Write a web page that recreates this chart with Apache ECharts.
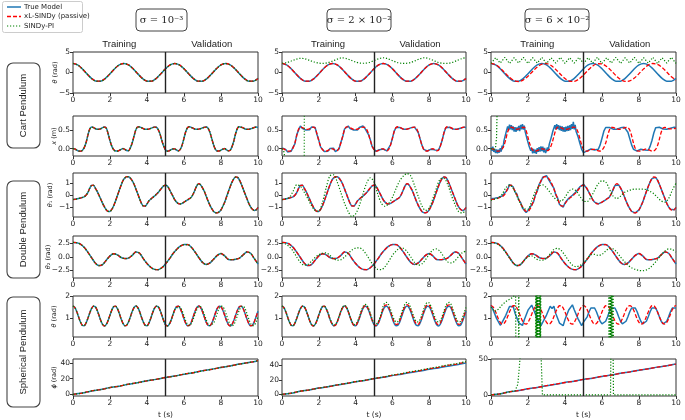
<!DOCTYPE html>
<html><head><meta charset="utf-8">
<script src="https://cdn.jsdelivr.net/npm/echarts@6/dist/echarts.min.js"></script>
<style>html,body{margin:0;padding:0;background:#fff}#c{width:685px;height:420px}</style>
</head><body><div id="c"></div>
<script>
// ---------- time grids (sampling of the horizontal axis, seconds) ----------
const t025 = Array.from({length:41},(_,i)=>i*0.25);
const t02  = Array.from({length:51},(_,i)=>+(i*0.2).toFixed(2));
const t01  = Array.from({length:101},(_,i)=>+(i*0.1).toFixed(2));
const t005 = Array.from({length:101},(_,i)=>+(i*0.05).toFixed(2));
const t05  = Array.from({length:21},(_,i)=>i*0.5);

// ---------- tick labels ----------
const xTicks = [0,2,4,6,8,10];
const colTitles = ['σ = 10⁻³','σ = 2 × 10⁻²','σ = 6 × 10⁻²'];
const rowGroups = ['Cart Pendulum','Double Pendulum','Spherical Pendulum'];
const legendNames = ['True Model','xL-SINDy (passive)','SINDy-PI'];

// ---------- Cart pendulum theta (0.25 s step) ----------
const cartThTrue = [2.2,1.85,0.91,-0.31,-1.44,-2.11,-2.11,-1.44,-0.31,0.92,1.85,
 2.2,1.85,0.91,-0.31,-1.44,-2.11,-2.11,-1.44,-0.31,0.92,1.85,
 2.2,1.85,0.91,-0.31,-1.44,-2.11,-2.11,-1.44,-0.31,0.92,1.85,
 2.2,1.85,0.91,-0.31,-1.44,-2.11,-2.11,-1.44];
const cartThPI2 = [2.25,2.4,2.8,3.2,3.45,3.35,2.95,2.55,2.3,2.22,
 2.4,2.8,3.25,3.58,3.4,3.0,2.55,2.28,2.25,2.45,
 2.9,3.35,3.6,3.35,2.9,2.45,2.25,2.25,2.45,2.9,
 3.35,3.6,3.35,2.9,2.45,2.25,2.25,2.45,2.9,3.35,3.65];
const cartThXL3 = [2.2,1.89,1.05,-0.08,-1.19,-1.97,-2.19,-1.80,-0.91,0.25,
 1.33,2.03,2.18,1.70,0.75,-0.41,-1.46,-2.09,-2.15,-1.60,
 -0.59,0.57,1.58,2.14,2.10,1.47,0.44,-0.73,-1.69,-2.17,
 -2.05,-1.35,-0.27,0.88,1.79,2.19,1.98,1.22,0.11,-1.03,-1.88];
const cartThPI3 = [2.2,3.6,2.3,3.7,2.2,3.6,2.3,3.7,2.2,3.6,2.3,3.7,2.2,3.6,2.3,3.7,2.2,3.6,2.3,3.7,
 2.2,3.6,2.3,3.7,2.2,3.6,2.3,3.7,2.2,3.6,2.3,3.7,2.2,3.6,2.3,3.7,2.2,3.6,2.3,3.7,2.2];

// ---------- Cart pendulum x (0.1 s step) ----------
const cartXTrue = [0,-0.01,-0.04,-0.065,-0.07,-0.05,0.02,0.15,0.35,0.52,
 0.58,0.57,0.54,0.52,0.52,0.535,0.565,0.58,0.55,0.40,
 0.21,0.06,-0.03,-0.065,-0.067,-0.048,-0.02,0.0,
 -0.02,-0.05,-0.055,0.02,0.15,0.34,0.51,0.585,0.585,0.565,
 0.54,0.52,0.52,0.525,0.545,0.565,0.58,0.575,0.52,0.40,
 0.22,0.07,-0.03,
 -0.07,-0.06,-0.03,-0.01,
 -0.01,-0.04,-0.06,-0.02,0.10,0.28,0.47,0.57,0.59,0.57,
 0.55,0.525,0.52,0.525,0.54,0.56,0.575,0.58,0.55,0.44,
 0.27,0.10,-0.02,-0.065,-0.065,-0.04,-0.015,
 0.0,-0.035,-0.06,-0.045,0.06,0.22,0.42,0.56,0.59,0.575,
 0.56,0.53,0.52,0.52,0.535,0.55,0.57,0.58,0.57];
// measured (noisy) training part, sigma = 2e-2, 0..5 s at 0.1 s
const cartXMeas2 = [0.02,-0.03,-0.02,-0.09,-0.05,-0.07,0.04,0.13,0.37,0.50,
 0.61,0.55,0.56,0.50,0.54,0.51,0.58,0.56,0.57,0.38,
 0.23,0.04,-0.01,-0.08,-0.05,-0.07,0.0,-0.02,
 0.01,-0.08,-0.03,-0.01,0.17,0.32,0.53,0.56,0.61,0.54,
 0.56,0.50,0.55,0.50,0.57,0.54,0.61,0.55,0.54,0.38,0.24,0.05,-0.01];
// measured (noisy) training part, sigma = 6e-2, 0..5 s at 0.05 s
const cartXMeas3 = [0.03,-0.06,0.05,-0.09,-0.01,-0.12,-0.02,-0.13,-0.03,-0.11,
 0.01,-0.08,0.08,0.02,0.21,0.19,0.41,0.38,0.60,0.49,
 0.65,0.52,0.63,0.50,0.60,0.46,0.58,0.45,0.57,0.49,
 0.61,0.47,0.64,0.52,0.66,0.51,0.62,0.45,0.44,0.26,
 0.25,0.08,0.10,-0.06,0.02,-0.13,-0.01,-0.12,-0.03,-0.14,
 0.01,-0.09,0.04,-0.08,0.06,-0.07,0.05,-0.10,0.02,-0.12,
 -0.10,0.03,-0.04,0.12,0.10,0.29,0.30,0.48,0.46,0.63,
 0.52,0.66,0.53,0.63,0.50,0.61,0.48,0.60,0.46,0.58,
 0.45,0.59,0.47,0.61,0.48,0.63,0.50,0.66,0.53,0.72,
 0.52,0.64,0.46,0.50,0.33,0.34,0.15,0.13,-0.02,0.01,-0.11];
const cartXXL3 = [0,-0.01,-0.04,-0.065,-0.07,-0.06,
 -0.01,0.08,0.25,0.45,0.56,0.58,0.56,0.53,0.52,0.53,
 0.55,0.57,0.57,0.48,0.3,0.12,0.0,-0.06,-0.07,-0.055,
 -0.03,-0.01,-0.01,-0.03,-0.055,-0.05,0.02,0.15,0.33,0.5,
 0.58,0.58,0.56,0.535,0.52,0.52,0.53,0.55,0.57,0.58,
 0.55,0.45,0.28,0.1,-0.02,
 -0.07,-0.07,-0.05,-0.03,-0.02,-0.02,-0.04,-0.06,-0.065,-0.04,
 0.03,0.15,0.34,0.5,0.57,0.57,0.55,0.53,0.52,0.525,
 0.54,0.56,0.57,0.565,0.5,0.35,0.15,0.0,-0.06,-0.07,
 -0.06,-0.04,-0.02,-0.01,-0.03,-0.05,-0.065,-0.06,-0.02,0.08,
 0.25,0.44,0.55,0.57,0.56,0.54,0.53,0.53,0.54,0.55];
const cartXPI2T = [0,0.08,0.12,0.16,0.2,1.2,1.22,10];
const cartXPI2V = [0,-0.02,-0.1,-0.4,-3,-3,3,3];
const cartXPI3T = [0,0.15,0.25,0.3,0.33,0.36,10];
const cartXPI3V = [0,-0.03,0.05,0.3,1.0,3,3];

// ---------- Double pendulum theta1 (0.1 s step) ----------
const dpTh1True = [-0.38,-0.36,-0.33,-0.3,-0.26,-0.21,-0.15,-0.02,0.2,0.55,
 0.8,0.82,0.6,0.32,0.0,-0.35,-0.7,-1.0,-1.25,-1.38,
 -1.38,-1.2,-0.9,-0.5,-0.05,0.4,0.82,1.2,1.42,1.54,
 1.53,1.42,1.2,0.9,0.5,0.1,-0.32,-0.7,-0.92,-0.93,
 -0.75,-0.5,-0.35,-0.22,-0.1,0.05,0.2,0.4,0.6,0.77,
 0.82,0.75,0.5,0.2,-0.1,-0.4,-0.6,-0.72,-0.75,-0.7,
 -0.6,-0.5,-0.4,-0.3,-0.18,0.1,0.45,0.8,0.95,0.85,
 0.6,0.3,-0.1,-0.5,-0.85,-1.15,-1.38,-1.48,-1.5,-1.42,
 -1.25,-0.95,-0.6,-0.15,0.3,0.72,1.1,1.38,1.52,1.48,
 1.25,0.9,0.5,0.1,-0.3,-0.7,-1.0,-1.2,-1.3,-1.25,-1.05];
const dpTh1Meas3 = [-0.31,-0.45,-0.27,-0.39,-0.2,-0.28,-0.08,-0.1,0.27,0.47,
 0.88,0.74,0.68,0.25,0.08,-0.43,-0.62,-1.09,-1.17,-1.47,
 -1.3,-1.29,-0.82,-0.58,0.03,0.33,0.9,1.13,1.5,1.46,
 1.62,1.34,1.28,0.82,0.58,0.02,-0.25,-0.79,-0.85,-1.02,
 -0.67,-0.58,-0.27,-0.3,-0.02,-0.03,0.28,0.32,0.68,0.7,0.9];
// SINDy-PI (0.2 s step)
const dpTh1PI2 = [-0.4,-0.32,-0.2,0.3,0.85,0.75,0.25,-0.3,-0.9,-1.3,
 -1.35,-0.6,0.6,1.6,1.7,1.1,0.2,-0.7,-1.4,-1.82,
 -1.6,-0.9,0.1,1.0,1.45,1.1,0.1,-0.7,-0.95,-0.7,
 -0.2,0.55,1.2,1.6,1.8,1.6,0.8,-0.1,-0.9,-1.3,
 -1.1,-0.3,0.6,1.35,1.4,0.9,0.0,-0.8,-1.4,-1.5,-1.3];
const dpTh1PI3 = [-0.45,-0.35,-0.25,0.05,0.6,0.85,0.55,-0.1,-0.75,-1.15,
 -1.2,-0.5,0.3,0.75,0.85,0.6,0.2,-0.2,-0.45,-0.5,
 -0.2,0.3,0.5,0.35,-0.1,-0.5,-0.55,-0.2,0.4,0.95,
 1.2,1.1,0.5,-0.1,-0.3,-0.1,0.2,0.35,0.45,0.5,
 0.5,0.5,0.45,0.3,0.1,-0.2,-0.5,-0.6,-0.3,0.4,1.0];

// ---------- Double pendulum theta2 (0.2 s step) ----------
const dpTh2True = [2.7,2.65,2.4,1.8,0.9,-0.1,-1.1,-1.6,-1.4,-0.6,
 0.2,0.6,0.4,-0.1,-0.3,-0.2,0.3,0.95,0.7,-0.3,
 -1.2,-1.9,-2.3,-2.35,-2.0,-1.3,-0.4,0.6,1.4,2.0,
 2.3,2.3,1.8,0.9,-0.1,-1.0,-1.4,-1.1,-0.4,0.3,
 0.65,0.2,-0.45,-0.5,-0.4,-0.2,0.4,0.95,0.7,-0.3,-1.3];
const dpTh2PI2 = [2.6,2.4,1.9,1.1,0.0,-1.0,-1.5,-1.4,-0.8,-0.1,
 0.4,0.7,0.75,0.3,-0.3,-0.6,-0.5,0.0,0.7,1.3,
 1.65,1.7,1.3,0.4,-0.7,-1.7,-2.3,-2.35,-1.8,-0.8,
 0.3,1.1,1.6,1.6,1.0,0.0,-1.0,-1.5,-1.3,-0.5,
 0.5,1.3,1.5,1.0,0.0,-0.9,-1.1,-0.7,0.1,0.8,1.1];
const dpTh2PI3 = [2.6,2.6,2.3,1.7,0.8,-0.2,-1.1,-1.6,-1.3,-0.6,
 0.0,0.2,-0.2,-0.6,-0.6,-0.2,0.6,1.4,1.6,1.2,
 0.3,-0.7,-1.5,-1.8,-1.6,-1.1,-0.3,0.4,0.5,0.3,
 0.5,1.1,1.55,1.5,0.9,0.0,-0.8,-1.5,-2.0,-2.3,
 -2.5,-2.55,-2.4,-2.0,-1.3,-0.5,0.4,1.1,1.5,1.4,0.9];

// ---------- Spherical pendulum theta (0.1 s step) ----------
const spThTrue = [1.55,1.48,1.30,1.06,0.83,0.68,0.66,0.77,0.98,1.22,
 1.43,1.54,1.52,1.37,1.14,0.90,0.72,0.65,0.72,0.90,
 1.14,1.37,1.52,1.54,1.43,1.22,0.97,0.77,0.66,0.68,
 0.83,1.06,1.30,1.48,1.55,1.48,1.30,1.05,0.83,0.68,
 0.66,0.77,0.98,1.23,1.44,1.54,1.52,1.37,1.14,0.89,
 0.71,0.65,0.72,0.90,1.15,1.38,1.52,1.54,1.43,1.22,
 0.97,0.76,0.66,0.68,0.83,1.07,1.31,1.49,1.55,1.48,
 1.29,1.05,0.82,0.68,0.66,0.77,0.98,1.23,1.44,1.54,
 1.52,1.36,1.13,0.89,0.71,0.65,0.72,0.91,1.15,1.38,
 1.52,1.54,1.43,1.21,0.97,0.76,0.66,0.68,0.84,1.07,1.31];
const spThPI1 = [1.55,1.48,1.30,1.06,0.83,0.68,0.66,0.77,0.98,1.22,
 1.43,1.54,1.52,1.37,1.14,0.90,0.72,0.65,0.72,0.90,
 1.14,1.37,1.52,1.54,1.43,1.22,0.97,0.77,0.66,0.68,
 0.83,1.06,1.30,1.48,1.55,1.48,1.30,1.05,0.83,0.68,
 0.66,0.77,0.98,1.23,1.44,1.54,1.52,1.37,1.14,0.89,
 0.71,0.65,0.72,0.90,1.15,1.38,1.45,1.53,1.49,1.33,
 1.10,0.87,0.71,0.67,0.76,0.95,1.19,1.40,1.52,1.52,
 1.39,1.17,0.94,0.75,0.67,0.72,0.77,0.98,1.23,1.44,
 1.54,1.52,1.36,1.13,0.89,0.71,0.65,0.72,0.91,1.15,
 1.38,1.52,1.54,1.43,1.21,0.97,0.76,0.66,0.68,0.84,1.07];
const spThXL2 = [1.55,1.48,1.30,1.06,0.83,0.68,0.66,0.77,0.98,1.22,
 1.43,1.54,1.52,1.37,1.14,0.90,0.72,0.65,0.72,0.90,
 1.14,1.37,1.52,1.54,1.43,1.22,0.97,0.77,0.66,0.68,
 0.83,1.06,1.30,1.48,1.55,1.48,1.30,1.05,0.83,0.68,
 0.68,0.79,1.00,1.25,1.46,1.56,1.54,1.39,1.16,0.91,
 0.73,0.67,0.74,0.92,1.17,1.44,1.58,1.60,1.49,1.28,
 1.03,0.82,0.72,0.74,0.89,1.13,1.37,1.55,1.61,1.54,
 1.35,1.11,0.88,0.74,0.72,0.83,1.04,1.29,1.50,1.60,
 1.58,1.42,1.19,0.95,0.77,0.71,0.78,0.97,1.21,1.44,
 1.58,1.60,1.49,1.27,1.03,0.82,0.72,0.74,0.90,1.13,1.37];
const spThPI2 = [1.55,1.48,1.30,1.06,0.83,0.68,0.66,0.77,0.98,1.22,
 1.43,1.54,1.52,1.37,1.14,0.90,0.72,0.65,0.72,0.90,
 1.14,1.37,1.52,1.54,1.43,1.25,1.00,0.80,0.69,0.71,
 0.86,1.09,1.33,1.51,1.58,1.51,1.33,1.08,0.86,0.71,
 0.74,0.85,1.06,1.31,1.52,1.62,1.60,1.45,1.22,0.97,
 0.79,0.73,0.80,0.98,1.23,1.55,1.69,1.71,1.60,1.39,
 1.14,0.93,0.83,0.85,1.00,1.24,1.48,1.66,1.72,1.65,
 1.46,1.22,0.99,0.85,0.83,0.94,1.15,1.40,1.61,1.71,
 1.69,1.53,1.30,1.06,0.88,0.82,0.89,1.08,1.32,1.55,
 1.69,1.71,1.60,1.38,1.14,0.93,0.83,0.85,1.01,1.24,1.48];
const spThTrue3 = [1.58,1.40,1.36,0.99,0.93,0.68,0.81,0.79,1.13,1.21,
 1.53,1.45,1.53,1.22,1.13,0.79,0.81,0.67,0.93,0.99,
 1.36,1.39,1.59,1.39,1.36,0.98,0.94,0.66,0.82,0.78,
 1.14,1.21,1.54,1.44,1.54,1.21,1.14,0.78,0.82,0.66,
 0.94,0.98,1.37,1.38,1.60,1.38,1.37,0.98,0.94,0.66,0.82,
 0.86,1.06,1.29,1.46,1.52,1.46,1.29,1.06,0.86,0.74,
 0.74,0.86,1.06,1.29,1.46,1.52,1.46,1.29,1.06,0.86,
 0.74,0.74,0.86,1.06,1.29,1.46,1.52,1.46,1.29,1.06,
 0.86,0.74,0.74,0.86,1.06,1.29,1.46,1.52,1.46,1.29,
 1.06,0.86,0.74,0.74,0.86,1.06,1.29,1.46,1.52,1.46];
const spThXL3 = [1.57,1.52,1.38,1.18,0.97,0.81,0.73,0.76,0.88,1.07,1.28,1.46,1.56,1.56,1.46,1.28,1.07,0.88,0.76,0.73,0.81,0.97,1.18,1.38,1.52,
 1.57,1.52,1.38,1.18,0.97,0.81,0.73,0.76,0.88,1.07,1.28,1.46,1.56,1.56,1.46,1.28,1.07,0.88,0.76,0.73,0.81,0.97,1.18,1.38,1.52,
 1.57,1.52,1.38,1.18,0.97,0.81,0.73,0.76,0.88,1.07,1.28,1.46,1.56,1.56,1.46,1.28,1.07,0.88,0.76,0.73,0.81,0.97,1.18,1.38,1.52,
 1.57,1.52,1.38,1.18,0.97,0.81,0.73,0.76,0.88,1.07,1.28,1.46,1.56,1.56,1.46,1.28,1.07,0.88,0.76,0.73,0.81,0.97,1.18,1.38,1.52,1.57];
const spThPI3T = [0,0.2,0.4,0.6,0.8,1.0,1.2,1.3,1.33,1.34,1.36,1.49,1.5,1.51,1.52,
 2.40,2.42,2.44,2.46,2.48,2.50,2.52,2.54,2.56,2.58,2.60,2.62,2.64,2.66,2.68,2.70,
 6.36,6.38,6.40,6.42,6.44,6.46,6.48,6.50,6.52,6.54,6.56,6.58,6.60,6.62];
const spThPI3V = [1.5,1.3,1.4,1.6,1.75,1.85,1.95,2.1,2.3,0.1,-1,-1,3,3,-1,
 -1,3,-1,3,-1,3,-1,3,-1,3,-1,3,-1,3,-1,3,
 3,-1,3,-1,3,-1,3,-1,3,-1,3,-1,3,-1];

// ---------- Spherical pendulum phi (0.5 s step) ----------
const spPhiTrue = [0,1.5,4.3,6.0,8.6,10.4,12.9,14.9,17.3,19.1,21.5,23.3,25.8,27.6,30.1,32.0,34.4,36.3,38.7,40.6,43.0];
const spPhiXL2  = [0,1.5,4.3,6.0,8.6,10.4,12.9,14.9,17.3,19.1,21.5,23.5,26.1,28.0,30.6,32.6,35.1,37.1,39.6,41.6,44.2];
const spPhiPI2  = [0,1.6,4.4,6.1,8.7,10.5,13.0,15.0,17.5,19.3,21.8,23.8,26.5,28.5,31.1,33.2,35.7,37.8,40.3,42.3,44.9];
const spPhiPI3T = [0,0.5,1.0,1.3,1.45,1.6,2.7,2.76,2.78,6.46,6.48,6.6,6.62,10];
const spPhiPI3V = [0,1.5,4.3,5.6,15,60,60,60,0,0,60,60,0,0];

// ---------- layout ----------
const COLS = [[73,185],[282,184],[491,185]];
const ROWS = [[52,41],[116,40],[173,44],[236,42],[296,41],[359,41]];
const BLUE='#1f77b4', RED='#ff0000', GREEN='#008000';

const zip = (ts,vs)=>ts.map((t,i)=>[t,vs[i]]);
const yCfg = [
  {min:[-5,-5,-5], max:[5,5,5], ticks:[[-5,0,5]], fmt:v=>String(v).replace('-','−'), name:'{i|θ} (rad)', gap:14},
  {min:[-0.2,-0.2,-0.2], max:[0.88,0.88,0.88], ticks:[[0,0.5]], fmt:v=>v.toFixed(1), name:'{i|x} (m)', gap:15},
  {min:[-1.85,-1.85,-1.85], max:[1.85,1.85,1.85], ticks:[[-1,0,1]], fmt:v=>String(v).replace('-','−'), name:'{i|θ}₁ (rad)', gap:19},
  {min:[-3.9,-3.9,-3.9], max:[3.9,3.9,3.9], ticks:[[-2.5,0,2.5]], fmt:v=>v.toFixed(1).replace('-','−'), name:'{i|θ}₂ (rad)', gap:21},
  {min:[0.15,0.15,0.15], max:[2,2,2], ticks:[[1,2]], fmt:v=>String(v), name:'{i|θ} (rad)', gap:15},
  {min:[-2.2,-2.3,-1.5], max:[45.2,48.5,50], ticks:[[0,20,40],[0,20,40],[0,50]], fmt:v=>String(v), name:'{i|ϕ} (rad)', gap:15}
];

const grids=[], xAxes=[], yAxes=[], series=[];
for(let r=0;r<6;r++){
  for(let c=0;c<3;c++){
    const gi=r*3+c;
    grids.push({left:COLS[c][0], top:ROWS[r][0], width:COLS[c][1], height:ROWS[r][1], show:true, borderColor:'#333', borderWidth:1, containLabel:false});
    xAxes.push({type:'value', gridIndex:gi, min:0, max:10, interval:2,
      axisLine:{show:false, onZero:false}, splitLine:{show:false},
      axisTick:{show:true, length:3, lineStyle:{color:'#333'}},
      axisLabel:{fontSize:7.5, color:'#222', margin:3, fontFamily:'DejaVu Sans'},
      name: r===5?'t (s)':'', nameLocation:'middle', nameGap:15, nameMoveOverlap:false,
      nameTextStyle:{fontSize:7.5, color:'#222', fontFamily:'DejaVu Sans'}});
    const yc=yCfg[r];
    const tk = yc.ticks[Math.min(c,yc.ticks.length-1)];
    yAxes.push({type:'value', gridIndex:gi, min:yc.min[c], max:yc.max[c],
      axisLine:{show:false, onZero:false}, splitLine:{show:false},
      axisTick:{show:true, length:3, lineStyle:{color:'#333'}, customValues:tk},
      axisLabel:{fontSize:7.5, color:'#222', margin:3, fontFamily:'DejaVu Sans', customValues:tk, formatter:yc.fmt},
      name: c===0?yc.name:'', nameLocation:'middle', nameGap:yc.gap, nameRotate:90, nameMoveOverlap:false,
      nameTextStyle:{fontSize:6.5, color:'#222', fontFamily:'DejaVu Sans', rich:{i:{fontStyle:'italic', fontSize:6.5, fontFamily:'DejaVu Sans', color:'#222'}}}});
  }
}

function addLine(gi, kind, ts, vs, smooth){
  const st = kind===0?{color:BLUE,width:1.5,type:'solid'}:kind===1?{color:RED,width:1.3,type:[4,2]}:{color:GREEN,width:1.2,type:[1.2,1.8]};
  const s = {type:'line', name:legendNames[kind], xAxisIndex:gi, yAxisIndex:gi, data:zip(ts,vs),
    symbol:'none', showSymbol:false, smooth:smooth?0.3:false, clip:true, animation:false,
    lineStyle:st, itemStyle:{color:st.color}, z:2+kind};
  if(kind===2){
    s.markLine={silent:true, symbol:['none','none'], animation:false, label:{show:false},
      lineStyle:{color:'#222', width:1.4, type:'solid'}, data:[{xAxis:5}]};
  }
  series.push(s);
}
const tMeas3 = t005.concat(t01.slice(51));
// row 0 : cart theta
addLine(0,0,t025,cartThTrue,1); addLine(0,1,t025,cartThTrue,1); addLine(0,2,t025,cartThTrue,1);
addLine(1,0,t025,cartThTrue,1); addLine(1,1,t025,cartThTrue,1); addLine(1,2,t025,cartThPI2,1);
addLine(2,0,t025,cartThTrue,1); addLine(2,1,t025,cartThXL3,1); addLine(2,2,t025,cartThPI3,0);
// row 1 : cart x
addLine(3,0,t01,cartXTrue,1); addLine(3,1,t01,cartXTrue,1); addLine(3,2,t01,cartXTrue,1);
addLine(4,0,t01,cartXMeas2.concat(cartXTrue.slice(51)),0); addLine(4,1,t01,cartXTrue,1); addLine(4,2,cartXPI2T,cartXPI2V,0);
addLine(5,0,tMeas3,cartXMeas3.concat(cartXTrue.slice(51)),0); addLine(5,1,t01,cartXXL3,1); addLine(5,2,cartXPI3T,cartXPI3V,0);
// row 2 : theta1
addLine(6,0,t01,dpTh1True,1); addLine(6,1,t01,dpTh1True,1); addLine(6,2,t01,dpTh1True,1);
addLine(7,0,t01,dpTh1True,1); addLine(7,1,t01,dpTh1True,1); addLine(7,2,t02,dpTh1PI2,1);
addLine(8,0,t01,dpTh1Meas3.concat(dpTh1True.slice(51)),0); addLine(8,1,t01,dpTh1True,1); addLine(8,2,t02,dpTh1PI3,1);
// row 3 : theta2
addLine(9,0,t02,dpTh2True,1); addLine(9,1,t02,dpTh2True,1); addLine(9,2,t02,dpTh2True,1);
addLine(10,0,t02,dpTh2True,1); addLine(10,1,t02,dpTh2True,1); addLine(10,2,t02,dpTh2PI2,1);
addLine(11,0,t02,dpTh2True,1); addLine(11,1,t02,dpTh2True,1); addLine(11,2,t02,dpTh2PI3,1);
// row 4 : spherical theta
addLine(12,0,t01,spThTrue,1); addLine(12,1,t01,spThTrue,1); addLine(12,2,t01,spThPI1,1);
addLine(13,0,t01,spThTrue,1); addLine(13,1,t01,spThXL2,1); addLine(13,2,t01,spThPI2,1);
addLine(14,0,t01,spThTrue3,0); addLine(14,1,t01,spThXL3,1); addLine(14,2,spThPI3T,spThPI3V,0);
// row 5 : spherical phi
addLine(15,0,t05,spPhiTrue,1); addLine(15,1,t05,spPhiTrue,1); addLine(15,2,t05,spPhiTrue,1);
addLine(16,0,t05,spPhiTrue,1); addLine(16,1,t05,spPhiXL2,1); addLine(16,2,t05,spPhiPI2,1);
addLine(17,0,t05,spPhiTrue,1); addLine(17,1,t05,spPhiTrue,1); addLine(17,2,spPhiPI3T,spPhiPI3V,0);

// ---------- decorations ----------
const graphic=[];
// legend
graphic.push({type:'rect', shape:{x:2.5,y:1.5,width:80,height:31,r:2}, style:{fill:'#fff', stroke:'#cccccc', lineWidth:1}});
const legY=[7,16.5,26];
const legStyles=[{stroke:BLUE,lineWidth:1.5},{stroke:RED,lineWidth:1.3,lineDash:[4,2]},{stroke:GREEN,lineWidth:1.2,lineDash:[1.2,1.8]}];
legendNames.forEach((n,i)=>{
  graphic.push({type:'line', shape:{x1:7,y1:legY[i],x2:21,y2:legY[i]}, style:legStyles[i]});
  graphic.push({type:'text', x:24, y:legY[i], style:{text:n, font:'7px "DejaVu Sans"', fill:'#222', textVerticalAlign:'middle'}});
});
// sigma boxes
const sigBoxes=[[136,51],[327,64],[525,64]];
sigBoxes.forEach((b,i)=>{
  graphic.push({type:'rect', shape:{x:b[0],y:9,width:b[1],height:22,r:4}, style:{fill:'#fff', stroke:'#444', lineWidth:1}});
  graphic.push({type:'text', x:b[0]+b[1]/2, y:20, style:{text:colTitles[i], font:'10px "DejaVu Serif"', fill:'#222', textAlign:'center', textVerticalAlign:'middle'}});
});
// Training / Validation titles
COLS.forEach(cc=>{
  graphic.push({type:'text', x:cc[0]+cc[1]*0.25, y:44, style:{text:'Training', font:'9.5px "Liberation Sans"', fill:'#222', textAlign:'center', textVerticalAlign:'middle'}});
  graphic.push({type:'text', x:cc[0]+cc[1]*0.75, y:44, style:{text:'Validation', font:'9.5px "Liberation Sans"', fill:'#222', textAlign:'center', textVerticalAlign:'middle'}});
});
// row group boxes
const rowBoxes=[[63,85],[181,97],[297,110]];
rowBoxes.forEach((b,i)=>{
  graphic.push({type:'rect', shape:{x:7,y:b[0],width:33,height:b[1],r:6}, style:{fill:'#fff', stroke:'#444', lineWidth:1.1}});
  graphic.push({type:'text', x:23.5, y:b[0]+b[1]/2, rotation:Math.PI/2, style:{text:rowGroups[i], font:'9.5px "Liberation Sans"', fill:'#222', textAlign:'center', textVerticalAlign:'middle'}});
});

const chart = echarts.init(document.getElementById('c'), null, {renderer:'canvas'});
chart.setOption({animation:false, backgroundColor:'#fff', grid:grids, xAxis:xAxes, yAxis:yAxes, series, graphic});
</script></body></html>
